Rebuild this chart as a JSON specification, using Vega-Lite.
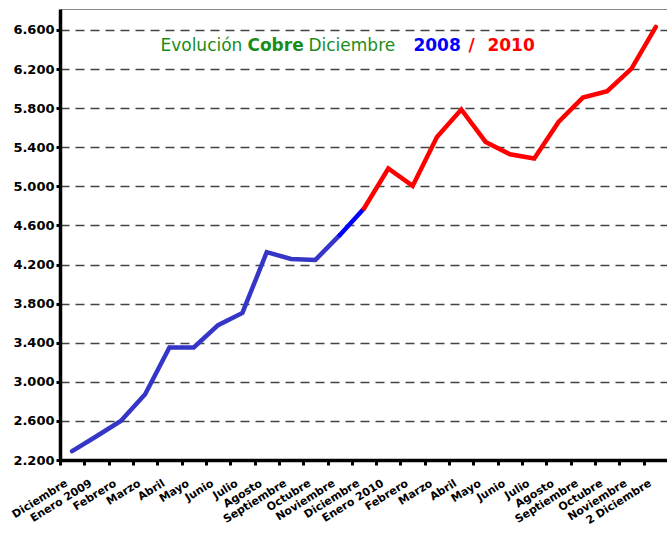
{
  "$schema": "https://vega.github.io/schema/vega-lite/v6.json",
  "autosize": {"type": "none"},
  "padding": {"left": 60, "top": 9, "right": 0, "bottom": 75},
  "width": 608,
  "height": 451,
  "background": "white",
  "config": {
    "view": {"stroke": "#888888", "strokeWidth": 1},
    "font": "DejaVu Sans"
  },
  "layer": [
    {
      "data": {
        "values": [
          {"mes": "Diciembre|08", "v": 2290, "serie": "a"},
          {"mes": "Enero 2009|09", "v": 2443, "serie": "a"},
          {"mes": "Febrero|09", "v": 2600, "serie": "a"},
          {"mes": "Marzo|09", "v": 2873, "serie": "a"},
          {"mes": "Abril|09", "v": 3351, "serie": "a"},
          {"mes": "Mayo|09", "v": 3351, "serie": "a"},
          {"mes": "Junio|09", "v": 3579, "serie": "a"},
          {"mes": "Julio|09", "v": 3705, "serie": "a"},
          {"mes": "Agosto|09", "v": 4326, "serie": "a"},
          {"mes": "Septiembre|09", "v": 4257, "serie": "a"},
          {"mes": "Octubre|09", "v": 4247, "serie": "a"},
          {"mes": "Noviembre|09", "v": 4500, "serie": "a"},
          {"mes": "Noviembre|09", "v": 4500, "serie": "b"},
          {"mes": "Diciembre|09", "v": 4773, "serie": "b"},
          {"mes": "Diciembre|09", "v": 4773, "serie": "c"},
          {"mes": "Enero 2010|10", "v": 5182, "serie": "c"},
          {"mes": "Febrero|10", "v": 5004, "serie": "c"},
          {"mes": "Marzo|10", "v": 5505, "serie": "c"},
          {"mes": "Abril|10", "v": 5786, "serie": "c"},
          {"mes": "Mayo|10", "v": 5454, "serie": "c"},
          {"mes": "Junio|10", "v": 5328, "serie": "c"},
          {"mes": "Julio|10", "v": 5284, "serie": "c"},
          {"mes": "Agosto|10", "v": 5659, "serie": "c"},
          {"mes": "Septiembre|10", "v": 5908, "serie": "c"},
          {"mes": "Octubre|10", "v": 5973, "serie": "c"},
          {"mes": "Noviembre|10", "v": 6205, "serie": "c"},
          {"mes": "2 Diciembre|10", "v": 6631, "serie": "c"}
        ]
      },
      "mark": {"type": "line", "strokeWidth": 4.5, "strokeCap": "round", "strokeJoin": "miter"},
      "encoding": {
        "x": {
          "field": "mes",
          "type": "nominal",
          "sort": ["Diciembre|08", "Enero 2009|09", "Febrero|09", "Marzo|09", "Abril|09", "Mayo|09", "Junio|09", "Julio|09", "Agosto|09", "Septiembre|09", "Octubre|09", "Noviembre|09", "Diciembre|09", "Enero 2010|10", "Febrero|10", "Marzo|10", "Abril|10", "Mayo|10", "Junio|10", "Julio|10", "Agosto|10", "Septiembre|10", "Octubre|10", "Noviembre|10", "2 Diciembre|10"],
          "scale": {"paddingInner": 0, "paddingOuter": 0},
          "axis": {
            "title": null,
            "labelExpr": "isString(datum.value) ? split(datum.value, '|')[0] : ''",
            "labelAngle": -32,
            "labelFont": "DejaVu Sans",
            "labelFontWeight": "bold",
            "labelFontSize": 11,
            "labelColor": "black",
            "labelPadding": 12,
            "labelOffset": -9,
            "domainColor": "black",
            "domainWidth": 3.5,
            "tickBand": "extent",
            "tickColor": "black",
            "tickWidth": 3,
            "tickSize": 5,
            "grid": false
          }
        },
        "y": {
          "field": "v",
          "type": "quantitative",
          "scale": {"domain": [2200, 6814], "nice": false, "zero": false},
          "axis": {
            "title": null,
            "values": [2200, 2600, 3000, 3400, 3800, 4200, 4600, 5000, 5400, 5800, 6200, 6600],
            "labelExpr": "replace(format(datum.value, ','), ',', '.')",
            "labelFont": "DejaVu Sans",
            "labelFontWeight": "bold",
            "labelFontSize": 13,
            "labelColor": "black",
            "labelPadding": 2,
            "domainColor": "black",
            "domainWidth": 3.5,
            "tickColor": "black",
            "tickWidth": 3,
            "tickSize": 4,
            "grid": true,
            "gridColor": "#444444",
            "gridWidth": 1.5,
            "gridDash": [9, 6]
          }
        },
        "color": {
          "field": "serie",
          "type": "nominal",
          "scale": {"domain": ["a", "b", "c"], "range": ["#3535c8", "#0000ff", "#ff0000"]},
          "legend": null
        }
      }
    },
    {
      "data": {"values": [{}]},
      "mark": {"type": "text", "text": "Evolución", "align": "left", "baseline": "middle", "dx": -9, "fontSize": 17, "color": "#1a8c1a", "font": "DejaVu Sans"},
      "encoding": {"x": {"datum": "Abril|09", "type": "nominal"}, "y": {"datum": 6433, "type": "quantitative"}}
    },
    {
      "data": {"values": [{}]},
      "mark": {"type": "text", "text": "Cobre", "align": "left", "baseline": "middle", "dx": 78, "fontSize": 17, "fontWeight": "bold", "color": "#1a8c1a", "font": "DejaVu Sans"},
      "encoding": {"x": {"datum": "Abril|09", "type": "nominal"}, "y": {"datum": 6433, "type": "quantitative"}}
    },
    {
      "data": {"values": [{}]},
      "mark": {"type": "text", "text": "Diciembre", "align": "left", "baseline": "middle", "dx": 139, "fontSize": 17, "color": "#1a8c1a", "font": "DejaVu Sans"},
      "encoding": {"x": {"datum": "Abril|09", "type": "nominal"}, "y": {"datum": 6433, "type": "quantitative"}}
    },
    {
      "data": {"values": [{}]},
      "mark": {"type": "text", "text": "2008", "align": "left", "baseline": "middle", "dx": 244, "fontSize": 17, "fontWeight": "bold", "color": "#0000ff", "font": "DejaVu Sans"},
      "encoding": {"x": {"datum": "Abril|09", "type": "nominal"}, "y": {"datum": 6433, "type": "quantitative"}}
    },
    {
      "data": {"values": [{}]},
      "mark": {"type": "text", "text": "/", "align": "left", "baseline": "middle", "dx": 299, "fontSize": 17, "fontWeight": "bold", "color": "#ff0000", "font": "DejaVu Sans"},
      "encoding": {"x": {"datum": "Abril|09", "type": "nominal"}, "y": {"datum": 6433, "type": "quantitative"}}
    },
    {
      "data": {"values": [{}]},
      "mark": {"type": "text", "text": "2010", "align": "left", "baseline": "middle", "dx": 318, "fontSize": 17, "fontWeight": "bold", "color": "#ff0000", "font": "DejaVu Sans"},
      "encoding": {"x": {"datum": "Abril|09", "type": "nominal"}, "y": {"datum": 6433, "type": "quantitative"}}
    }
  ]
}
